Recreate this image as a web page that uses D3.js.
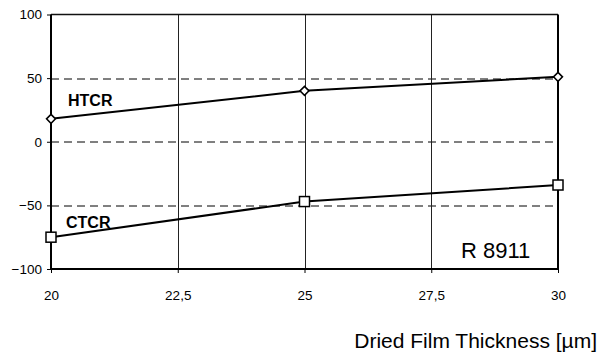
<!DOCTYPE html>
<html>
<head>
<meta charset="utf-8">
<script src="https://cdn.jsdelivr.net/npm/d3@7"></script>
<style>
  body { margin: 0; background: #fff; }
  svg { display: block; font-family: "Liberation Sans", Arial, sans-serif; }
  .axis path { display: none; }
  .axis line { stroke: #000; stroke-width: 1; }
  .axis text { font-size: 13.5px; fill: #000; }
</style>
</head>
<body>
<div id="chart"></div>
<script>
var thickness = [20, 25, 30];
var htcr = [18, 40, 51];
var ctcr = [-75, -47, -34];
var xTicks = [20, 22.5, 25, 27.5, 30];
var yTicks = [100, 50, 0, -50, -100];
var dashedAt = [50, 0, -50];

var outerWidth = 600, outerHeight = 354;
var margin = { top: 14.5, right: 42, bottom: 85, left: 51 };
var width = outerWidth - margin.left - margin.right,
    height = outerHeight - margin.top - margin.bottom;

var svg = d3.select("#chart").append("svg")
    .attr("width", outerWidth)
    .attr("height", outerHeight);
var g = svg.append("g")
    .attr("transform", "translate(" + margin.left + "," + margin.top + ")");

var x = d3.scaleLinear().domain([20, 30]).range([0, width]);
var y = d3.scaleLinear().domain([-100, 100]).range([height, 0]);

// dashed horizontal grid
g.append("g").selectAll("line").data(dashedAt).enter()
    .append("line")
    .attr("x1", 0).attr("x2", width)
    .attr("y1", function (d) { return Math.round(y(d)) + 0.5; })
    .attr("y2", function (d) { return Math.round(y(d)) + 0.5; })
    .attr("stroke", "#000")
    .attr("stroke-dasharray", "8,5");

// vertical grid (solid)
g.append("g").selectAll("line").data(xTicks.slice(1, -1)).enter()
    .append("line")
    .attr("x1", function (d) { return Math.round(x(d)) + 0.5; })
    .attr("x2", function (d) { return Math.round(x(d)) + 0.5; })
    .attr("y1", 0).attr("y2", height)
    .attr("stroke", "#222");

// axes
var xAxis = d3.axisBottom(x)
    .tickValues(xTicks)
    .tickSize(4)
    .tickPadding(17)
    .tickFormat(function (d) { return String(d).replace(".", ","); });
g.append("g")
    .attr("class", "axis")
    .attr("transform", "translate(0," + height + ")")
    .call(xAxis);

var yAxis = d3.axisLeft(y)
    .tickValues(yTicks)
    .tickSize(4)
    .tickPadding(5);
g.append("g")
    .attr("class", "axis")
    .call(yAxis);

// frame
g.append("line").attr("x1", 0).attr("x2", width).attr("y1", 0).attr("y2", 0)
    .attr("stroke", "#111").attr("stroke-width", 1.5);
g.append("line").attr("x1", 0).attr("x2", width).attr("y1", height).attr("y2", height)
    .attr("stroke", "#000").attr("stroke-width", 2);
g.append("line").attr("x1", 0).attr("x2", 0).attr("y1", 0).attr("y2", height)
    .attr("stroke", "#000").attr("stroke-width", 2);
g.append("line").attr("x1", width).attr("x2", width).attr("y1", 0).attr("y2", height)
    .attr("stroke", "#000").attr("stroke-width", 2);

var line = d3.line()
    .x(function (d) { return x(d[0]); })
    .y(function (d) { return y(d[1]); });

var htcrPts = d3.zip(thickness, htcr);
var ctcrPts = d3.zip(thickness, ctcr);

g.append("path").datum(htcrPts)
    .attr("d", line).attr("fill", "none").attr("stroke", "#000").attr("stroke-width", 2);
g.append("path").datum(ctcrPts)
    .attr("d", line).attr("fill", "none").attr("stroke", "#000").attr("stroke-width", 2);

// diamond markers
g.append("g").selectAll("path").data(htcrPts).enter()
    .append("path")
    .attr("d", "M0,-4.5L4.5,0L0,4.5L-4.5,0Z")
    .attr("transform", function (d) { return "translate(" + x(d[0]) + "," + y(d[1]) + ")"; })
    .attr("fill", "#fff").attr("stroke", "#000").attr("stroke-width", 1.5);

// square markers
g.append("g").selectAll("rect").data(ctcrPts).enter()
    .append("rect")
    .attr("x", function (d) { return x(d[0]) - 5; })
    .attr("y", function (d) { return y(d[1]) - 5; })
    .attr("width", 10).attr("height", 10)
    .attr("fill", "#fff").attr("stroke", "#000").attr("stroke-width", 1.5);

// series labels
svg.append("text").text("HTCR")
    .attr("x", 68).attr("y", 106)
    .style("font-size", "16px").style("font-weight", "bold");
svg.append("text").text("CTCR")
    .attr("x", 66).attr("y", 228)
    .style("font-size", "16px").style("font-weight", "bold");

svg.append("text").text("R 8911")
    .attr("x", 461).attr("y", 258)
    .style("font-size", "22px");

svg.append("text").text("Dried Film Thickness [µm]")
    .attr("x", 597).attr("y", 348)
    .attr("text-anchor", "end")
    .style("font-size", "21px");
</script>
</body>
</html>
